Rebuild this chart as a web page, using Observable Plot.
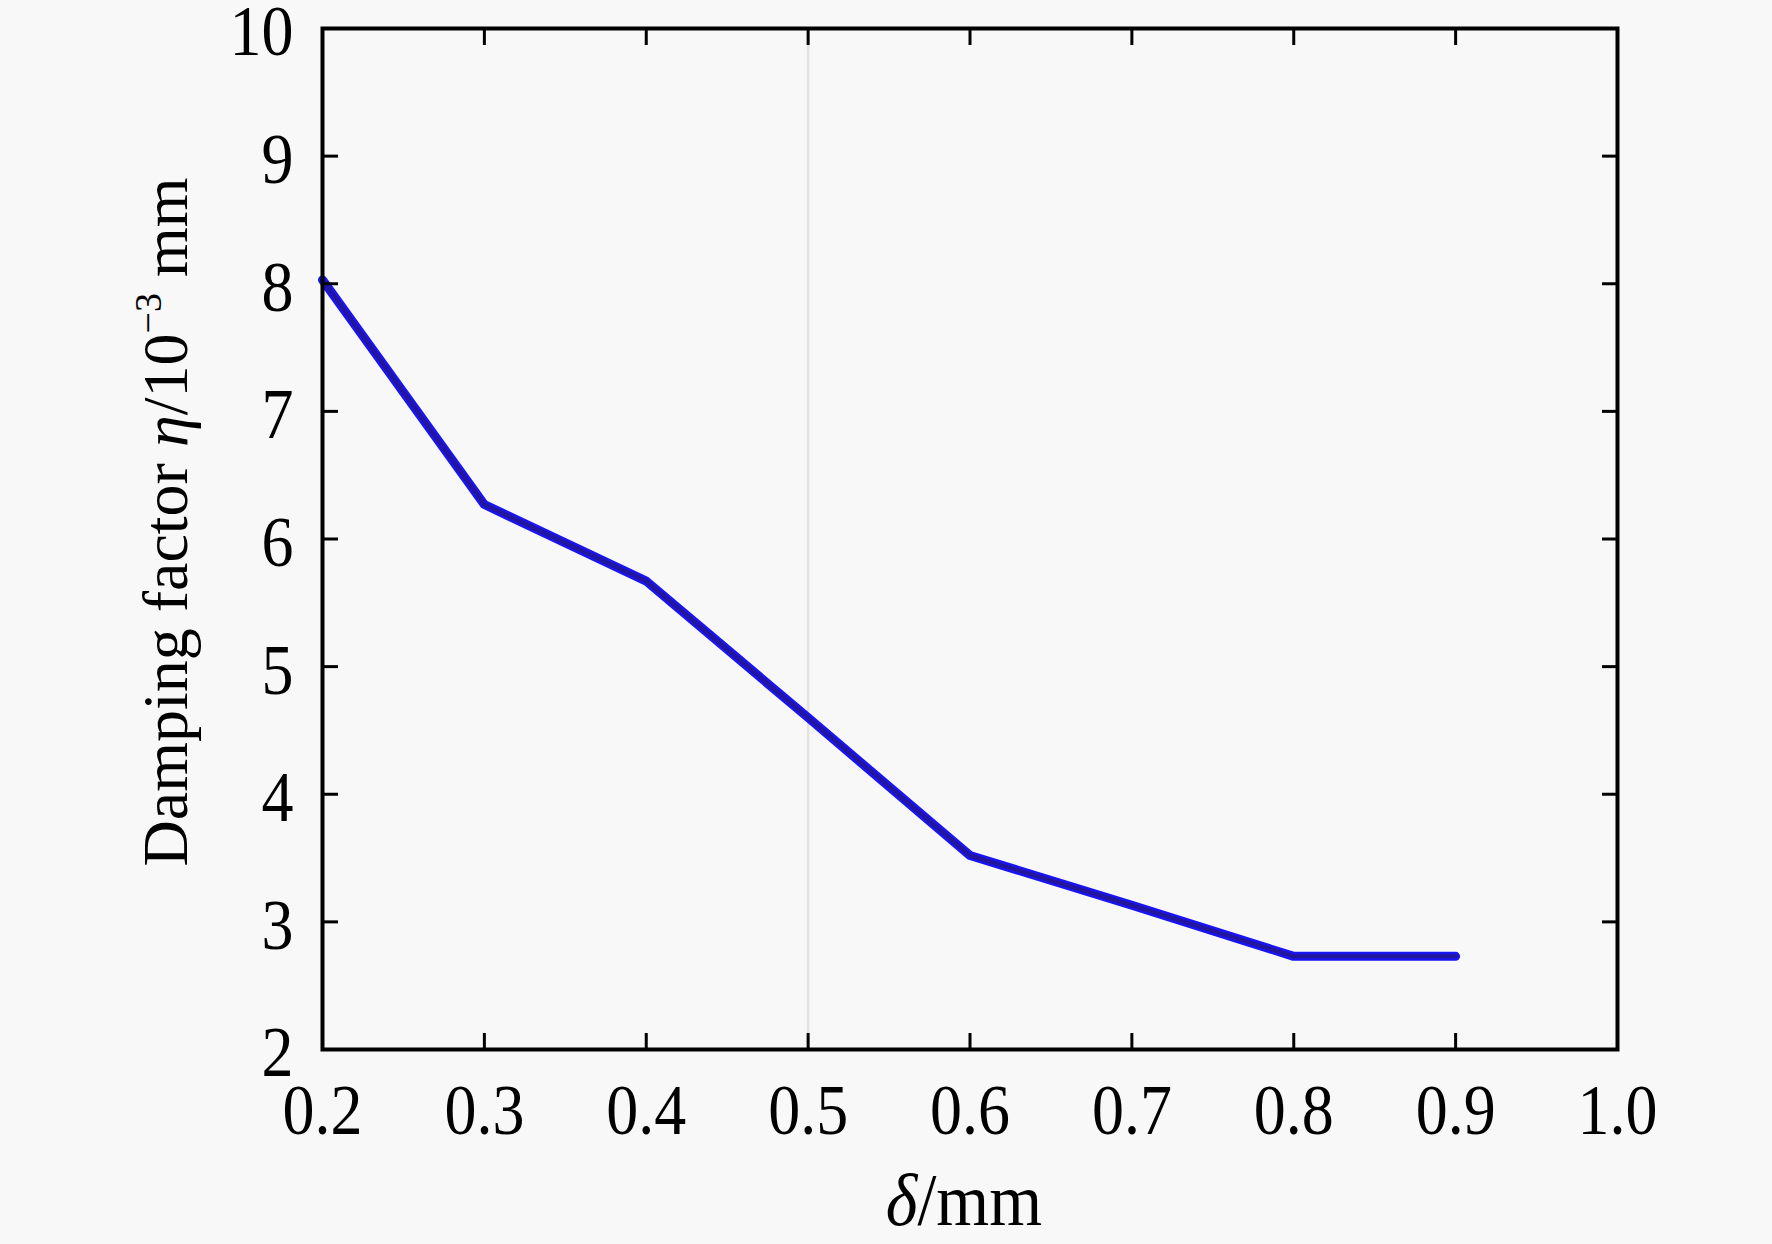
<!DOCTYPE html>
<html>
<head>
<meta charset="utf-8">
<script src="https://cdn.jsdelivr.net/npm/d3@7"></script>
<script src="https://cdn.jsdelivr.net/npm/@observablehq/plot@0.6"></script>
<style>
  html, body { margin: 0; padding: 0; background: #f8f8f8; }
  #chart svg { display: block; background: #f8f8f8; }
</style>
</head>
<body>
<div id="chart"></div>
<script>
// Data
const delta = [0.2, 0.3, 0.4, 0.5, 0.6, 0.7, 0.8, 0.9];          // δ / mm
const eta   = [8.03, 6.27, 5.67, 4.60, 3.52, 3.13, 2.73, 2.73];  // η / 10^-3 mm
const xTicks = [0.2, 0.3, 0.4, 0.5, 0.6, 0.7, 0.8, 0.9, 1.0];
const yTicks = [2, 3, 4, 5, 6, 7, 8, 9, 10];
const gridX = [0.5];

const rows = delta.map((d, i) => ({delta: d, eta: eta[i]}));

const W = 1772, H = 1244;
const font = "'Liberation Serif', 'Times New Roman', serif";

const chart = Plot.plot({
  width: W,
  height: H,
  marginLeft: 322,
  marginRight: 155,
  marginTop: 28,
  marginBottom: 195,
  style: {fontFamily: font, fontSize: "64px", color: "black", background: "#f8f8f8"},
  x: {domain: [0.2, 1.0]},
  y: {domain: [2, 10]},
  marks: [
    Plot.ruleX(gridX, {stroke: "#e2e2e2", strokeWidth: 2.5}),
    Plot.line(rows, {x: "delta", y: "eta", stroke: "#1a14f2", strokeWidth: 9, strokeLinejoin: "round"}),
    Plot.line(rows, {x: "delta", y: "eta", stroke: "#22169a", strokeWidth: 4, strokeLinejoin: "round"}),
    Plot.axisX({anchor: "bottom", ticks: xTicks, tickSize: -16, tickPadding: 50, strokeWidth: 3,
                tickFormat: d3.format(".1f"), label: null, fontSize: 64}),
    Plot.axisX({anchor: "top", ticks: xTicks, tickSize: -16, strokeWidth: 3,
                tickFormat: () => "", label: null}),
    Plot.axisY({anchor: "left", ticks: yTicks, tickSize: -16, tickPadding: 45, strokeWidth: 3,
                tickFormat: d3.format("d"), label: null, fontSize: 64}),
    Plot.axisY({anchor: "right", ticks: yTicks, tickSize: -16, strokeWidth: 3,
                tickFormat: () => "", label: null}),
    Plot.frame({stroke: "black", strokeWidth: 4})
  ]
});

// The reference glyphs are slightly taller than wide: stretch tick labels vertically
chart.querySelectorAll('g[aria-label="x-axis tick label"] text').forEach(el => {
  const t = el.getAttribute("transform");
  if (t) el.setAttribute("transform", t + " scale(1,1.12)");
});
chart.querySelectorAll('g[aria-label="y-axis tick label"] text').forEach(el => {
  const t = el.getAttribute("transform");
  if (t) el.setAttribute("transform", t + " translate(0,4) scale(1,1.12)");
});

// Axis titles with italic symbols and superscript
const svg = d3.select(chart);
const yt = svg.append("text")
  .attr("transform", "translate(187,522) rotate(-90)")
  .attr("text-anchor", "middle")
  .attr("fill", "black")
  .style("font-family", font)
  .style("font-size", "64px");
yt.append("tspan").text("Damping factor ");
yt.append("tspan").attr("font-style", "italic").text("η");
yt.append("tspan").text("/10");
yt.append("tspan").attr("font-size", "38px").attr("dy", "-26").text("−3");
yt.append("tspan").attr("dy", "26").text(" mm");

const xt = svg.append("text")
  .attr("transform", "translate(964,1225) scale(1,1.1)")
  .attr("text-anchor", "middle")
  .attr("fill", "black")
  .style("font-family", font)
  .style("font-size", "68px");
xt.append("tspan").attr("font-style", "italic").text("δ");
xt.append("tspan").text("/mm");

document.getElementById("chart").appendChild(chart);
</script>
</body>
</html>
